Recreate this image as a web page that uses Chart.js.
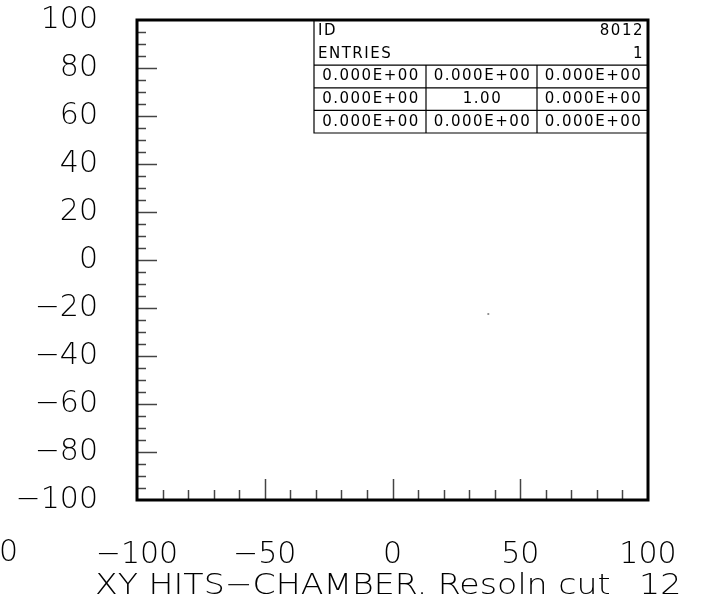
<!DOCTYPE html>
<html>
<head>
<meta charset="utf-8">
<script src="https://cdn.jsdelivr.net/npm/chart.js@4"></script>
<style>
  html, body { margin: 0; padding: 0; background: #fff; }
  #wrap { width: 710px; height: 606px; position: relative; }
</style>
</head>
<body>
<div id="wrap"><canvas id="hits"></canvas></div>
<script>
// Histo 2D PAW : XY hits chamber (une seule entrée)

const hitsX = [37.5];
const hitsY = [-22.5];

const xMin = -100, xMax = 100;
const yMin = -100, yMax = 100;

const titre = 'XY HITS\u2212CHAMBER. Resoln cut';
const titreId = '12';

// boîte de stats en haut à droite
const statsId = '8012';
const statsEntries = '1';
const statsGrille = [
  ['0.000E+00', '0.000E+00', '0.000E+00'],
  ['0.000E+00', '1.00', '0.000E+00'],
  ['0.000E+00', '0.000E+00', '0.000E+00'],
];

const police = '"DejaVu Sans", Verdana, sans-serif';
const moins = (v) => String(v).replace('-', '\u2212');

const sansMarge = (s) => {
  s.paddingTop = 0; s.paddingBottom = 0;
  s.paddingLeft = 0; s.paddingRight = 0;
};

// texte étiré horizontalement (police PAW plus large)
function texteLarge(ctx, txt, x, y, etire) {
  ctx.save();
  ctx.translate(x, y);
  ctx.scale(etire, 1);
  ctx.fillText(txt, 0, 0);
  ctx.restore();
}

const cadrePaw = {
  id: 'cadrePaw',
  afterDraw(chart) {
    const { ctx, chartArea: a, scales } = chart;
    const sx = scales.x, sy = scales.y;
    ctx.save();

    // petits traits vers l'intérieur
    ctx.strokeStyle = '#444';
    ctx.lineWidth = 1.5;
    for (let v = xMin + 10; v < xMax; v += 10) {
      const px = Math.round(sx.getPixelForValue(v)) + 0.5;
      const len = v % 50 === 0 ? 21 : 10;
      ctx.beginPath();
      ctx.moveTo(px, a.bottom);
      ctx.lineTo(px, a.bottom - len);
      ctx.stroke();
    }
    for (let v = yMin + 5; v < yMax; v += 5) {
      const py = Math.round(sy.getPixelForValue(v)) + 0.5;
      const len = v % 20 === 0 ? 20 : 9;
      ctx.beginPath();
      ctx.moveTo(a.left, py);
      ctx.lineTo(a.left + len, py);
      ctx.stroke();
    }

    // stats
    const bx = 314, by = a.top, rh = 22.6;
    const c1 = 426, c2 = 537;
    ctx.strokeStyle = '#000';
    ctx.lineWidth = 1.2;
    ctx.beginPath();
    ctx.moveTo(bx, by); ctx.lineTo(bx, by + rh * 5);
    ctx.lineTo(a.right, by + rh * 5);
    for (let i = 2; i < 5; i++) {
      ctx.moveTo(bx, by + rh * i); ctx.lineTo(a.right, by + rh * i);
    }
    ctx.moveTo(c1, by + rh * 2); ctx.lineTo(c1, by + rh * 5);
    ctx.moveTo(c2, by + rh * 2); ctx.lineTo(c2, by + rh * 5);
    ctx.stroke();

    ctx.fillStyle = '#000';
    ctx.font = '15px ' + police;
    ctx.letterSpacing = '1.5px';
    ctx.textBaseline = 'middle';
    ctx.textAlign = 'left';
    ctx.fillText('ID', bx + 4, by + rh * 0.5);
    ctx.fillText('ENTRIES', bx + 4, by + rh * 1.5);
    ctx.textAlign = 'right';
    ctx.fillText(statsId, a.right - 4, by + rh * 0.5);
    ctx.fillText(statsEntries, a.right - 4, by + rh * 1.5);
    ctx.textAlign = 'center';
    const cols = [(bx + c1) / 2, (c1 + c2) / 2, (c2 + a.right) / 2];
    statsGrille.forEach((ligne, i) => {
      ligne.forEach((t, j) => ctx.fillText(t, cols[j] + 1, by + rh * (2.5 + i)));
    });
    ctx.letterSpacing = '0px';

    // cadre épais
    ctx.strokeStyle = '#000';
    ctx.lineWidth = 3;
    ctx.strokeRect(a.left, a.top, a.right - a.left, a.bottom - a.top);

    // titre + label orphelin à gauche
    ctx.font = '200 29px ' + police;
    ctx.textBaseline = 'middle';
    ctx.textAlign = 'left';
    texteLarge(ctx, titre, 95, 586, 1.145);
    texteLarge(ctx, titreId, 639, 586, 1.15);
    ctx.font = '200 30px ' + police;
    ctx.fillText('0', -1, 553);
    ctx.restore();
  },
};

new Chart(document.getElementById('hits'), {
  type: 'scatter',
  data: {
    datasets: [{
      data: hitsX.map((x, i) => ({ x, y: hitsY[i] })),
      pointStyle: 'rect',
      pointRadius: 1.3,
      borderWidth: 0,
      backgroundColor: '#888',
    }],
  },
  options: {
    responsive: true,
    maintainAspectRatio: false,
    animation: false,
    events: [],
    layout: { padding: { top: 20, right: 62, left: 0, bottom: 0 } },
    plugins: { legend: { display: false }, tooltip: { enabled: false } },
    scales: {
      x: {
        type: 'linear',
        min: xMin, max: xMax,
        grid: { display: false, drawTicks: false },
        border: { display: false },
        afterFit: (s) => { s.height = 106; sansMarge(s); },
        ticks: {
          stepSize: 50,
          maxRotation: 0,
          padding: 37,
          color: '#000',
          font: { family: police, size: 30, weight: 200 },
          callback: (v) => moins(v),
        },
      },
      y: {
        type: 'linear',
        min: yMin, max: yMax,
        grid: { display: false, drawTicks: false },
        border: { display: false },
        afterFit: (s) => { s.width = 137; sansMarge(s); },
        ticks: {
          stepSize: 20,
          padding: 39,
          color: '#000',
          font: { family: police, size: 30, weight: 200 },
          callback: (v) => moins(v),
        },
      },
    },
  },
  plugins: [cadrePaw],
});
</script>
</body>
</html>
